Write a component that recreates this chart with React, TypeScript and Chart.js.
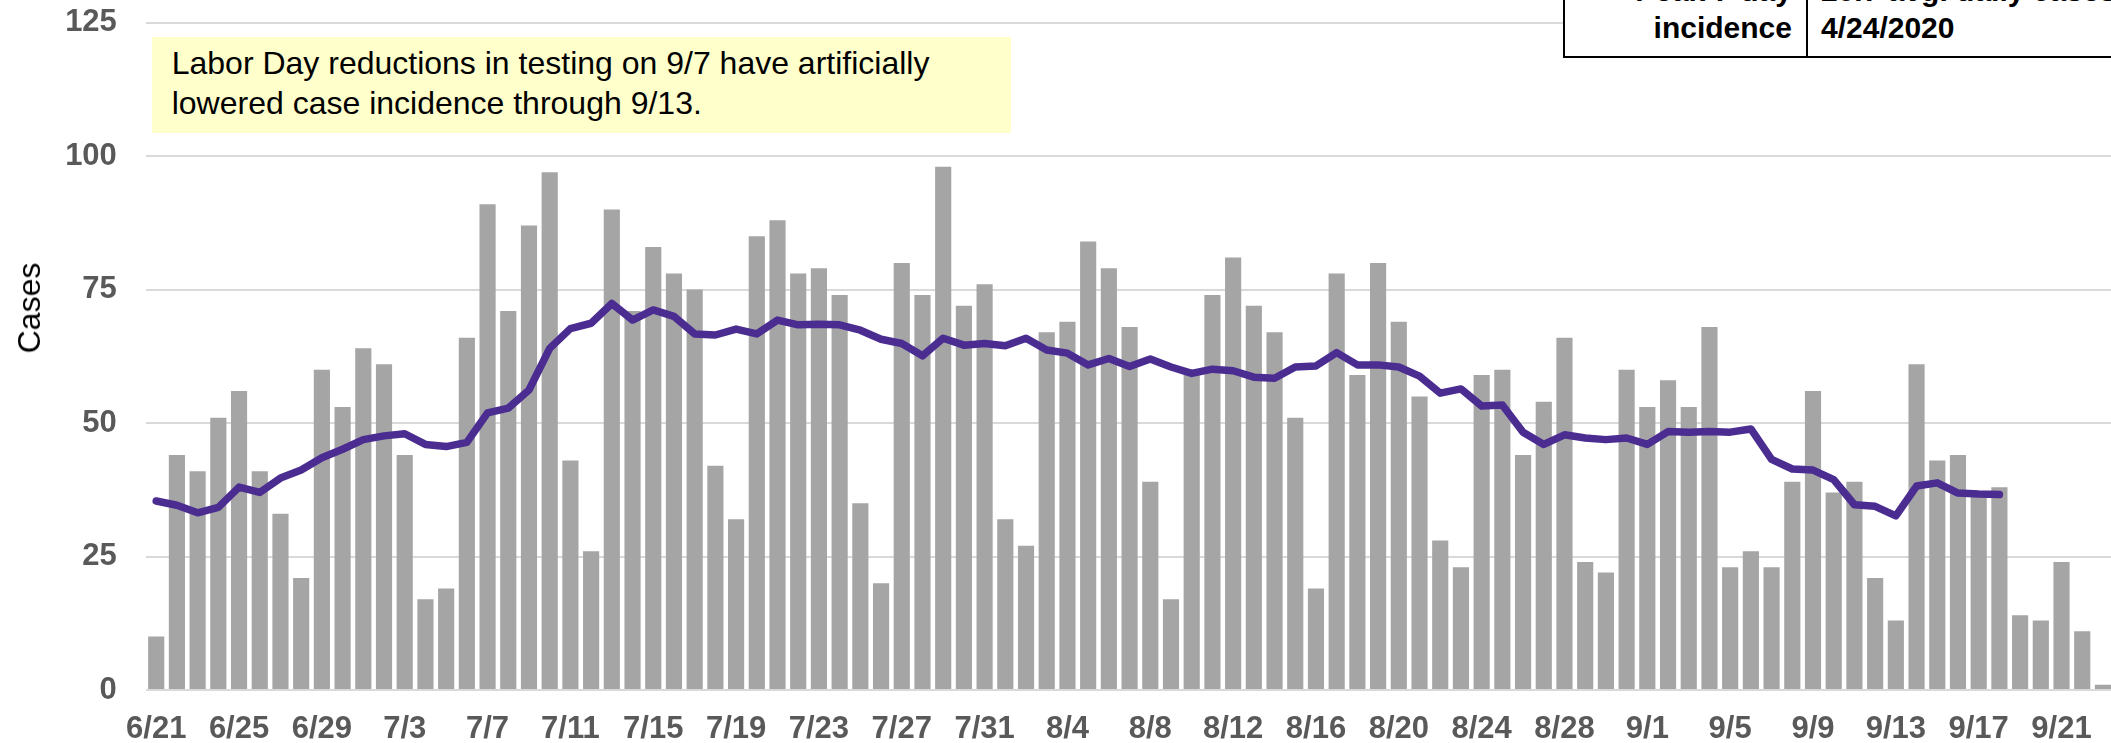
import React, { useEffect, useRef } from "react";
import { Chart, registerables } from "chart.js";

Chart.register(...registerables);

const dateLabels: string[] = (() => {
  const out: string[] = [];
  for (let d = 21; d <= 30; d++) out.push(`6/${d}`);
  for (let d = 1; d <= 31; d++) out.push(`7/${d}`);
  for (let d = 1; d <= 31; d++) out.push(`8/${d}`);
  for (let d = 1; d <= 23; d++) out.push(`9/${d}`);
  return out;
})();

const casesJune = [10, 44, 41, 51, 56, 41, 33, 21, 60, 53];
const casesJuly = [64, 61, 44, 17, 19, 66, 91, 71, 87, 97, 43, 26, 90, 71, 83, 78, 75, 42, 32, 85, 88, 78, 79, 74, 35, 20, 80, 74, 98, 72, 76];
const casesAug = [32, 27, 67, 69, 84, 79, 68, 39, 17, 60, 74, 81, 72, 67, 51, 19, 78, 59, 80, 69, 55, 28, 23, 59, 60, 44, 54, 66, 24, 22, 60];
const casesSep = [53, 58, 53, 68, 23, 26, 23, 39, 56, 37, 39, 21, 13, 61, 43, 44, 37, 38, 14, 13, 24, 11, 1];

const avgJune = [35.4, 34.6, 33.2, 34.2, 38.0, 37.0, 39.7, 41.2, 43.5, 45.1];
const avgJuly = [46.9, 47.6, 48.0, 46.0, 45.6, 46.4, 51.9, 52.8, 56.2, 64.0, 67.7, 68.7, 72.4, 69.3, 71.2, 70.0, 66.7, 66.5, 67.6, 66.7, 69.3, 68.4, 68.5, 68.4, 67.4, 65.7, 64.9, 62.6, 65.9, 64.6, 64.9];
const avgAug = [64.5, 65.9, 63.7, 63.1, 60.9, 62.1, 60.6, 62.0, 60.5, 59.3, 60.1, 59.8, 58.6, 58.4, 60.5, 60.7, 63.2, 60.9, 60.9, 60.5, 58.8, 55.6, 56.4, 53.2, 53.4, 48.3, 46.0, 47.8, 47.2, 46.9, 47.2];
const avgSep = [46.0, 48.4, 48.3, 48.4, 48.3, 48.9, 43.2, 41.4, 41.2, 39.4, 34.7, 34.4, 32.6, 38.2, 38.8, 36.9, 36.7, 36.6];

const dailyCases = [...casesJune, ...casesJuly, ...casesAug, ...casesSep];
const sevenDayAvg = [...avgJune, ...avgJuly, ...avgAug, ...avgSep];

const yTicks = [0, 25, 50, 75, 100, 125];

const FONT = "'Liberation Sans', Arial, Helvetica, sans-serif";

export default function App() {
  const ref = useRef<HTMLCanvasElement | null>(null);

  useEffect(() => {
    if (!ref.current) return;
    const chart = new Chart(ref.current, {
      type: "bar",
      data: {
        labels: dateLabels,
        datasets: [
          {
            type: "line",
            label: "7-day average",
            data: sevenDayAvg,
            borderColor: "#4B2C91",
            borderWidth: 7.5,
            pointRadius: 0,
            tension: 0,
            borderJoinStyle: "round",
            borderCapStyle: "round",
            order: 0,
          } as any,
          {
            type: "bar",
            label: "Cases",
            data: dailyCases,
            backgroundColor: "#A5A5A5",
            borderWidth: 0,
            barPercentage: 0.78,
            categoryPercentage: 1,
            order: 1,
          },
        ],
      },
      options: {
        animation: false,
        responsive: false,
        maintainAspectRatio: false,
        layout: { padding: { left: 0, right: 11.7, top: 22.7, bottom: 0 } },
        plugins: { legend: { display: false }, tooltip: { enabled: false }, title: { display: false } },
        scales: {
          x: {
            grid: { display: false },
            border: { display: false },
            ticks: {
              autoSkip: false,
              maxRotation: 0,
              minRotation: 0,
              padding: 13,
              color: "#595959",
              font: { family: FONT, size: 31, weight: "bold" },
              callback: (_v: any, i: number) => (i % 4 === 0 ? dateLabels[i] : ""),
            },
            afterFit: (s: any) => {
              s.height = 53;
              s.paddingLeft = 0;
              s.paddingRight = 0;
            },
          },
          y: {
            min: 0,
            max: 125,
            afterBuildTicks: (s: any) => {
              s.ticks = yTicks.map((v) => ({ value: v }));
            },
            grid: { color: "#D9D9D9", lineWidth: 2, drawTicks: false },
            border: { display: false },
            ticks: {
              padding: 29,
              color: "#595959",
              font: { family: FONT, size: 31, weight: "bold" },
            },
            afterFit: (s: any) => {
              s.width = 145.85;
              s.paddingTop = 0;
              s.paddingBottom = 0;
            },
          },
        },
      },
    });
    return () => chart.destroy();
  }, []);

  return (
    <div
      style={{
        position: "fixed",
        left: 0,
        top: 0,
        width: 2111,
        height: 743,
        overflow: "hidden",
        background: "#FFFFFF",
      }}
    >
      <canvas
        ref={ref}
        width={2125}
        height={743}
        style={{ position: "absolute", left: 0, top: 0, width: 2125, height: 743 }}
      />
      <div
        style={{
          position: "absolute",
          left: 29,
          top: 308,
          transform: "translate(-50%, -50%) rotate(-90deg)",
          font: `32px ${FONT}`,
          lineHeight: "1",
          color: "#000000",
          whiteSpace: "nowrap",
        }}
      >
        Cases
      </div>
      <div
        style={{
          position: "absolute",
          left: 151.7,
          top: 37.3,
          width: 1011 - 151.7,
          height: 133.3 - 37.3,
          boxSizing: "border-box",
          background: "#FFFFCC",
          padding: "6px 0 0 20px",
          font: `32px ${FONT}`,
          lineHeight: "40px",
          color: "#000000",
          whiteSpace: "nowrap",
        }}
      >
        Labor Day reductions in testing on 9/7 have artificially
        <br />
        lowered case incidence through 9/13.
      </div>
      <div
        style={{
          position: "absolute",
          left: 1563,
          top: -30,
          width: 700,
          height: 88,
          boxSizing: "border-box",
          border: "2.5px solid #000000",
          background: "#FFFFFF",
          font: `bold 30px ${FONT}`,
          lineHeight: "37px",
          color: "#000000",
        }}
      >
        <div
          style={{
            position: "absolute",
            left: 0,
            top: 0,
            width: 243,
            height: "100%",
            borderRight: "2.5px solid #000000",
            boxSizing: "border-box",
            textAlign: "right",
            paddingRight: 14,
            paddingTop: 0,
            whiteSpace: "nowrap",
          }}
        >
          Peak 7-day
          <br />
          incidence
        </div>
        <div
          style={{
            position: "absolute",
            left: 256,
            top: 0,
            paddingTop: 0,
            whiteSpace: "nowrap",
          }}
        >
          20.7 avg. daily cases
          <br />
          4/24/2020
        </div>
      </div>
    </div>
  );
}
